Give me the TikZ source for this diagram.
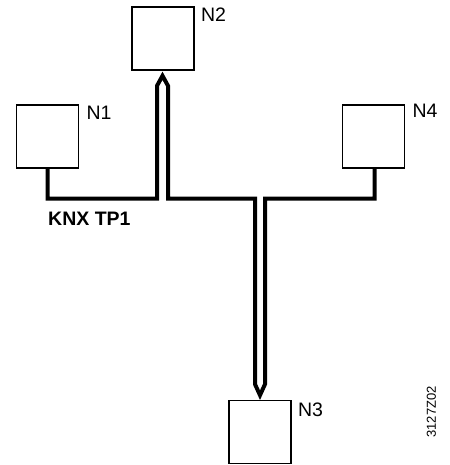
\documentclass[tikz,border=0pt]{standalone}
\usepackage{fontspec}
\setmainfont{Liberation Sans}
\usetikzlibrary{calc}
\begin{document}
\begin{tikzpicture}[x=1pt,y=-1pt,
  devbox/.style={draw,line width=1.6pt,minimum width=62pt,minimum height=63pt,inner sep=0pt},
  devlabel/.style={anchor=north west,inner sep=0pt,font=\fontsize{19.5}{20}\selectfont},
  wire/.style={line width=4pt,line join=miter,miter limit=10}]
\useasboundingbox (0,0) rectangle (449,465);
\node[devbox] (N1) at (47.5,136.5) {};
\node[devbox] (N2) at (163,38.5) {};
\node[devbox] (N4) at (373.5,136.5) {};
\node[devbox] (N3) at (260,432) {};
\node[devlabel] (L1) at ($(N1.north east)+(7,2)$) {N1};
\node[devlabel] (L2) at ($(N2.north east)+(6,1)$) {N2};
\node[devlabel] (L4) at ($(N4.north east)+(7,0)$) {N4};
\node[devlabel] (L3) at ($(N3.north east)+(6,3)$) {N3};
\node[anchor=north west,inner sep=0pt,font=\bfseries\fontsize{19.5}{20}\selectfont] (knx) at (48,212) {KNX TP1};
\node[rotate=90,inner sep=0pt,font=\fontsize{13}{14}\selectfont] (code) at (431.5,412) {3127Z02};
\coordinate (bus) at (0,198.5);
\coordinate (t2) at ($(N2.south)+(-0.5,5)$);
\coordinate (t3) at ($(N3.north)+(0,-4.5)$);
\draw[wire] (N1.south) -- (N1.south |- bus)
  -- ($(t2 |- bus)+(-5.5,0)$) -- ($(t2)+(-5.5,10)$) -- (t2) -- ($(t2)+(5.5,10)$)
  -- ($(t2 |- bus)+(5.5,0)$)
  -- ($(t3 |- bus)+(-5,0)$) -- ($(t3)+(-5,-11)$) -- (t3) -- ($(t3)+(5,-11)$)
  -- ($(t3 |- bus)+(5,0)$)
  -- ($(N4.south |- bus)+(1,0)$) -- ($(N4.south)+(1,0)$);
\end{tikzpicture}
\end{document}
